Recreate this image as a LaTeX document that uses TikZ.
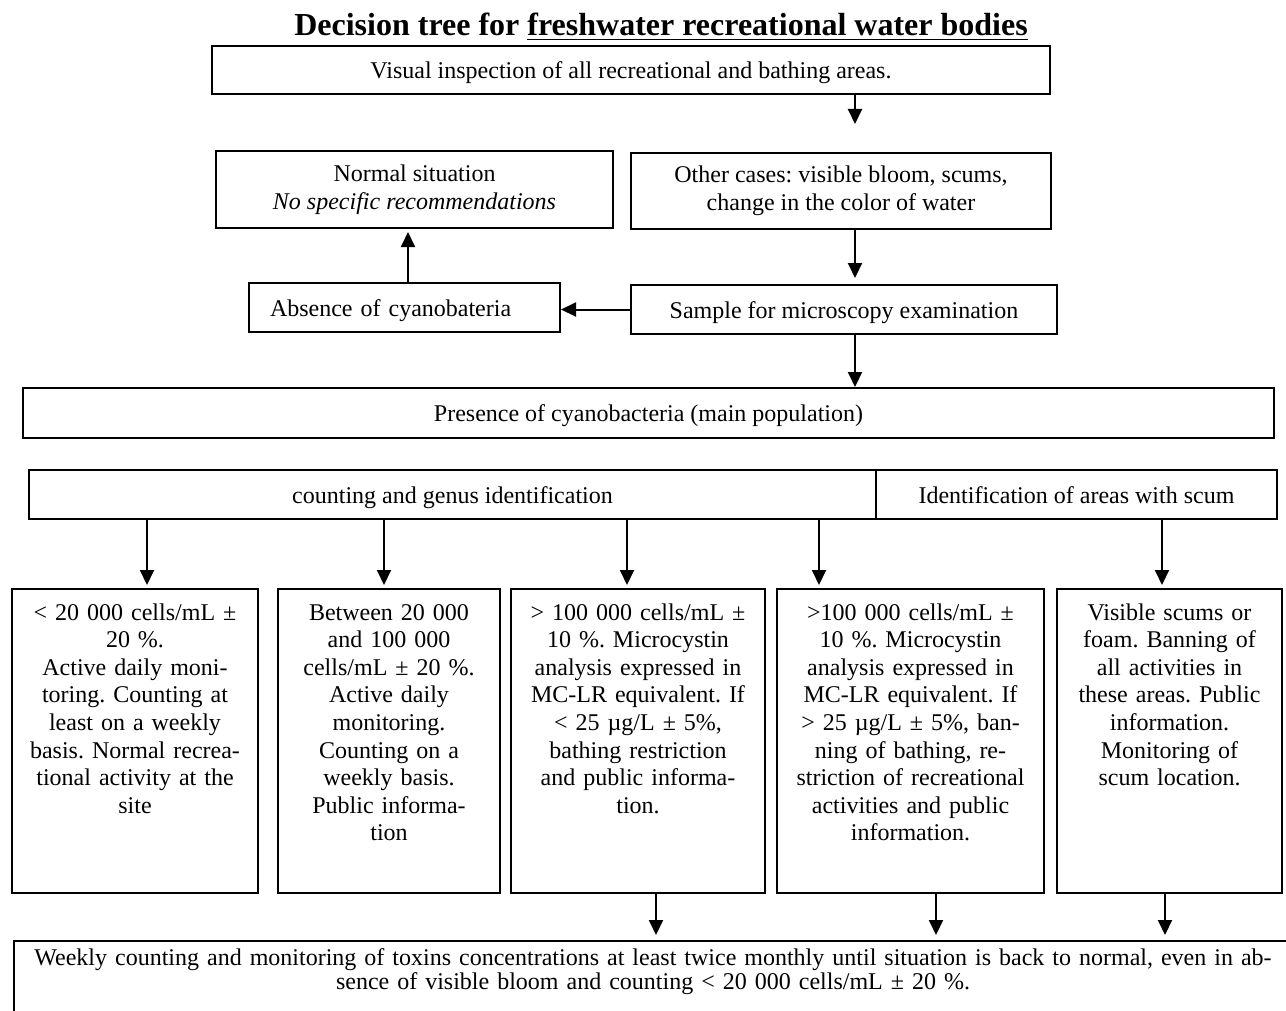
\documentclass[tikz,border=0pt]{standalone}
\usepackage{fontspec}
\setmainfont{Liberation Serif}
\usepackage{tikz}
\usetikzlibrary{arrows.meta}
\frenchspacing

\begin{document}
\begin{tikzpicture}[
		x=0.5pt, y=-0.5pt,
		every node/.style={font=\fontsize{12}{13.8}\selectfont},
		flowbox/.style={draw, line width=1pt, inner sep=0pt, align=center},
		linebox/.style={flowbox, text height=10pt, text depth=1.5pt},
		resbox/.style={flowbox, anchor=north, inner xsep=3pt, inner ysep=0pt,
			text height=15.5pt, text depth=136.5pt},
		flowarrow/.style={-{Triangle[width=7pt,length=7.5pt]}, line width=1pt}
		]
		\useasboundingbox (0,0) rectangle (1286,1011);
		\clip (0,0) rectangle (1286,1011);
		
		% =========================
		% Title
		% =========================
		\node[anchor=base, font=\fontsize{16}{18}\selectfont\bfseries] (title) at (661,36)
		{Decision tree for \underline{freshwater recreational water bodies}};
		
		% --------------------------------
		% Upper part of the tree
		% --------------------------------
		\node[linebox, minimum width=419pt, minimum height=24pt] (visual) at (631,70)
		{Visual inspection of all recreational and bathing areas.};
		
		\node[flowbox, minimum width=198.5pt, minimum height=38.5pt] (normal) at (414.5,189.5)
		{Normal situation\\ \textit{No specific recommendations}};
		
		\node[flowbox, minimum width=210pt, minimum height=38pt] (other) at (841,191)
		{Other cases: visible bloom, scums,\\ change in the color of water};
		
		\node[linebox, text width=134.5pt, align=left, inner xsep=10.5pt,
		minimum height=24.5pt] (absence) at (404.5,307.5)
		{Absence of cyanobateria};
		
		\node[linebox, minimum width=213pt, minimum height=24.5pt] (sample) at (844,309.5)
		{Sample for microscopy examination};
		
		\node[linebox, minimum width=625.5pt, minimum height=25pt] (presence) at (648.5,413)
		{Presence of cyanobacteria (main population)};
		
		\node[linebox, minimum width=423.5pt, minimum height=24.5pt] (counting) at (452.5,494.5)
		{counting and genus identification};
		
		\node[linebox, minimum width=200.5pt, minimum height=24.5pt] (ident) at (1076.5,494.5)
		{Identification of areas with scum};
		
		% --------------------------------
		% Result boxes
		% --------------------------------
		\node[resbox, text width=117pt] (b1) at (135,588)
		{< 20 000 cells/mL ±\\ 20 \%.\\ Active daily moni-\\ toring. Counting at\\
			least on a weekly\\ basis. Normal recrea-\\ tional activity at the\\ site};
		
		\node[resbox, text width=105pt] (b2) at (389,588)
		{Between 20 000\\ and 100 000\\ cells/mL ± 20 \%.\\ Active daily\\ monitoring.\\
			Counting on a\\ weekly basis.\\ Public informa-\\ tion};
		
		\node[resbox, text width=121pt] (b3) at (638,588)
		{> 100 000 cells/mL ±\\ 10 \%. Microcystin\\ analysis expressed in\\
			MC-LR equivalent. If\\ < 25 µg/L ± 5\%,\\ bathing restriction\\
			and public informa-\\ tion.};
		
		\node[resbox, text width=127.5pt] (b4) at (910.5,588)
		{>100 000 cells/mL ±\\ 10 \%. Microcystin\\ analysis expressed in\\
			MC-LR equivalent. If\\ > 25 µg/L ± 5\%, ban-\\ ning of bathing, re-\\
			striction of recreational\\ activities and public\\ information.};
		
		\node[resbox, text width=106.5pt] (b5) at (1169.5,588)
		{Visible scums or\\ foam. Banning of\\ all activities in\\ these areas. Public\\
			information.\\ Monitoring of\\ scum location.};
		
		% --------------------------------
		% Final box, cut by the page
		% --------------------------------
		\node[flowbox, anchor=north, text width=633pt, inner xsep=3pt, inner ysep=0pt,
		text height=12pt, text depth=40pt,
		font=\fontsize{12}{12}\selectfont] (final) at (653,940)
		{Weekly counting and monitoring of toxins concentrations at least twice monthly until situation is back to normal, even in ab-\\
			sence of visible bloom and counting < 20 000 cells/mL ± 20 \%.};
		
		% --------------------------------
		% Connectors
		% --------------------------------
		\draw[flowarrow, shorten >=14pt] (visual.south -| 855,0) -- (other.north -| 855,0);
		\draw[flowarrow, shorten >=3pt] (other.south -| 855,0) -- (sample.north -| 855,0);
		\draw[flowarrow] (sample.west) -- (sample.west -| absence.east);
		\draw[flowarrow, shorten >=1.5pt] (absence.north -| 408,0) -- (normal.south -| 408,0);
		\draw[flowarrow] (sample.south -| 855,0) -- (presence.north -| 855,0);
		
		\foreach \cx/\tgt in {147/b1, 384/b2, 627/b3, 819/b4}
		{
			\draw[flowarrow, shorten >=1.5pt] (counting.south -| \cx,0) -- (\tgt.north -| \cx,0);
		}
		\draw[flowarrow, shorten >=1.5pt] (ident.south -| 1162,0) -- (b5.north -| 1162,0);
		
		\foreach \cx/\src in {656/b3, 936/b4, 1165/b5}
		{
			\draw[flowarrow, shorten >=2.5pt] (\src.south -| \cx,0) -- (final.north -| \cx,0);
		}
		
	\end{tikzpicture}
\end{document}
